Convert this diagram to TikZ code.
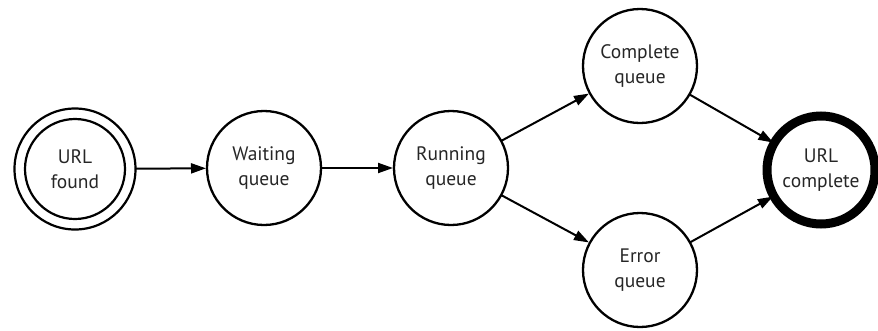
\documentclass[tikz,border=0pt]{standalone}
\usepackage{fontspec}
\setmainfont{PT Sans}
\usetikzlibrary{arrows.meta}
\begin{document}
\begin{tikzpicture}[x=1pt,y=-1pt,
  st/.style={circle,draw=black,line width=2.3pt,inner sep=0pt,outer sep=0pt,
    minimum size=114pt,align=center,text=black!85,
    font=\fontsize{19.5}{25}\selectfont},
  conn/.style={line width=2pt,-{Triangle[length=15pt,width=10pt]},shorten >=1pt}]
\useasboundingbox (0,0) rectangle (878,330);
\node[st,minimum size=121pt,line width=2.2pt] (found) at (75,169) {URL\\found};
\draw[line width=2.2pt] (found.center) circle[radius=50];
\node[st] (wait) at (264,168) {Waiting\\queue};
\node[st] (run) at (451,168) {Running\\queue};
\node[st] (comp) at (640,66) {Complete\\queue};
\node[st] (err) at (640,270) {Error\\queue};
\node[st,minimum size=108pt,line width=9pt] (done) at (821,170) {URL\\complete};
\draw[conn] (found) -- (wait);
\draw[conn] (wait) -- (run);
\draw[conn] (run) -- (comp);
\draw[conn] (run) -- (err);
\draw[conn] (comp) -- (done);
\draw[conn] (err) -- (done);
\end{tikzpicture}
\end{document}
